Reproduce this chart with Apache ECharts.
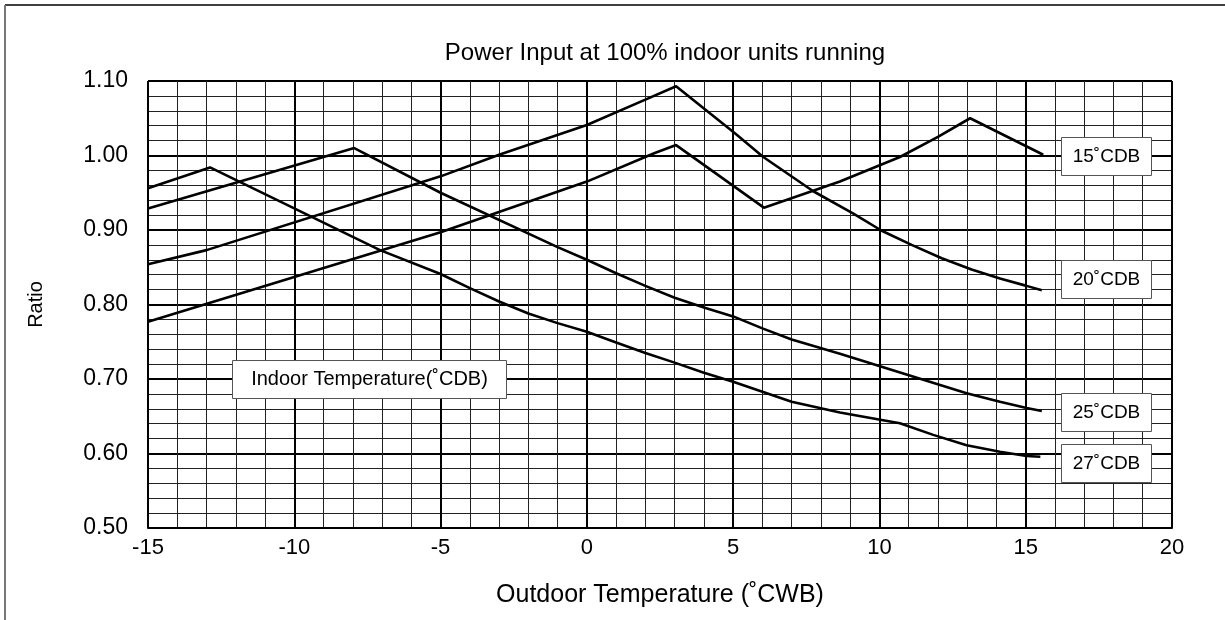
<!DOCTYPE html>
<html>
<head>
<meta charset="utf-8">
<script src="https://cdn.jsdelivr.net/npm/echarts@6/dist/echarts.min.js"></script>
<style>
  html, body { margin: 0; padding: 0; background: #fff; }
  #myCharts { width: 1225px; height: 620px; }
</style>
</head>
<body>
<div id="myCharts"></div>
<script>
// outdoor temperature (˚CWB) / ratio pairs
var cdb15 = [[-15, 0.777], [-10, 0.837], [-5, 0.897], [-3.3, 0.920], [0, 0.965], [2.3, 1.003],
  [3.05, 1.014], [6.05, 0.930], [8.65, 0.965], [10.7, 0.998], [12, 1.025], [13.1, 1.050], [15.6, 1.001]];
var cdb20 = [[-15, 0.854], [-13, 0.873], [-5, 0.972], [-3, 1.001], [0, 1.041], [2, 1.075],
  [3.05, 1.093], [5.06, 1.030], [6.03, 0.998], [7.74, 0.952], [9.11, 0.922], [10.08, 0.899],
  [11.1, 0.880], [12.13, 0.862], [13.15, 0.847], [14.12, 0.835], [15.03, 0.825], [15.55, 0.819]];
var cdb25 = [[-15, 0.929], [-7.95, 1.010], [-5, 0.950], [-1, 0.877], [0, 0.860], [1, 0.842],
  [2, 0.825], [3, 0.809], [4, 0.796], [5, 0.784], [6, 0.768], [7, 0.753], [8.65, 0.734],
  [11.5, 0.699], [12.98, 0.681], [14.12, 0.6695], [15.03, 0.661], [15.55, 0.657]];
var cdb27 = [[-15, 0.956], [-12.88, 0.984], [-7.07, 0.873], [-5, 0.841], [-4, 0.822], [-3, 0.804],
  [-2, 0.788], [-1, 0.775], [0, 0.7635], [1, 0.749], [2, 0.735], [3, 0.722], [4, 0.7085],
  [5, 0.6964], [6, 0.683], [7, 0.6695], [8.65, 0.655], [10.7, 0.6405], [11.84, 0.625],
  [12.98, 0.611], [14.12, 0.6024], [15.03, 0.5966], [15.5, 0.5957]];
var seriesNames = ["15˚CDB", "20˚CDB", "25˚CDB", "27˚CDB"];
var seriesData = [cdb15, cdb20, cdb25, cdb27];

var font = "'Liberation Sans', Arial, sans-serif";

function labelBox(text, x, y, w, h, size) {
  return {
    type: "group",
    left: x,
    top: y,
    z: 100,
    children: [
      { type: "rect", z: 100, shape: { x: 0, y: 0, width: w, height: h },
        style: { fill: "#fff", stroke: "#555", lineWidth: 1 } },
      { type: "text", z: 101, x: w / 2, y: h / 2,
        style: { text: text, fill: "#000", font: size + "px " + font, align: "center", verticalAlign: "middle" } }
    ]
  };
}

var option = {
  animation: false,
  backgroundColor: "#fff",
  title: {
    text: "Power Input at 100% indoor units running",
    left: 660,
    top: 36,
    textAlign: "center",
    textStyle: { color: "#000", fontSize: 24, fontWeight: "normal", fontFamily: font }
  },
  grid: { left: 148, top: 81, width: 1024, height: 447 },
  xAxis: {
    type: "value",
    min: -15,
    max: 20,
    interval: 5,
    name: "Outdoor Temperature (˚CWB)",
    nameLocation: "middle",
    nameGap: 55,
    nameTextStyle: { color: "#000", fontSize: 25, fontFamily: font },
    axisLine: { show: true, onZero: false, lineStyle: { color: "#000", width: 2 } },
    axisTick: { show: false },
    axisLabel: { color: "#000", fontSize: 22, fontFamily: font, margin: 9 },
    splitLine: { show: true, lineStyle: { color: "#000", width: 2 } },
    minorTick: { show: false, splitNumber: 5 },
    minorSplitLine: { show: true, lineStyle: { color: "#222", width: 1 } }
  },
  yAxis: {
    type: "value",
    min: 0.5,
    max: 1.1,
    interval: 0.1,
    name: "Ratio",
    nameLocation: "middle",
    nameGap: 102,
    nameRotate: 90,
    nameTextStyle: { color: "#000", fontSize: 20, fontFamily: font },
    axisLine: { show: true, lineStyle: { color: "#000", width: 2 } },
    axisTick: { show: false },
    axisLabel: {
      color: "#000", fontSize: 23, fontFamily: font, margin: 20,
      formatter: function (value) { return value.toFixed(2); }
    },
    splitLine: { show: true, lineStyle: { color: "#000", width: 2 } },
    minorTick: { show: false, splitNumber: 5 },
    minorSplitLine: { show: true, lineStyle: { color: "#222", width: 1 } }
  },
  series: seriesData.map(function (d, i) {
    return {
      name: seriesNames[i],
      type: "line",
      data: d,
      showSymbol: false,
      smooth: false,
      z: 10,
      lineStyle: { color: "#000", width: 2.6 }
    };
  }),
  graphic: [
    { type: "line", shape: { x1: 5, y1: 5, x2: 1225, y2: 5 }, style: { stroke: "#000", lineWidth: 1.5 } },
    { type: "line", shape: { x1: 5, y1: 5, x2: 5, y2: 620 }, style: { stroke: "#777", lineWidth: 2 } },
    labelBox(seriesNames[0], 1061, 137, 90, 38, 19),
    labelBox(seriesNames[1], 1061, 260, 90, 38, 19),
    labelBox(seriesNames[2], 1061, 393, 90, 38, 19),
    labelBox(seriesNames[3], 1061, 444, 90, 38, 19),
    labelBox("Indoor Temperature(˚CDB)", 232, 360, 274, 38, 20)
  ]
};

var myChart = echarts.init(document.getElementById("myCharts"));
myChart.setOption(option);
</script>
</body>
</html>
